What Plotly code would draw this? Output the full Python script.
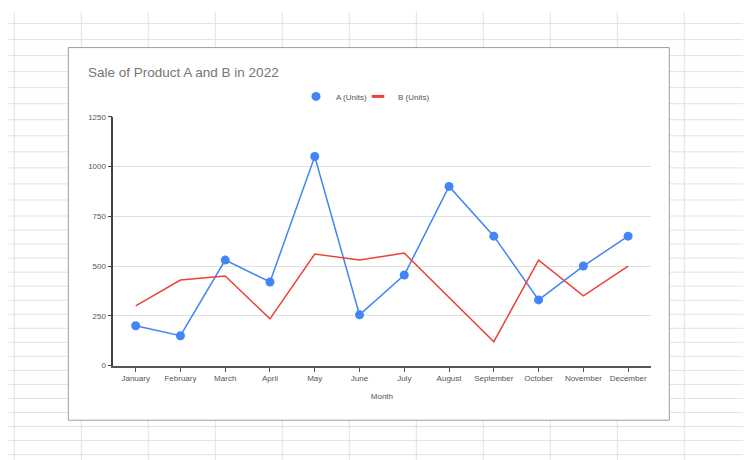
import plotly.graph_objects as go

# chart data
months = ["January", "February", "March", "April", "May", "June",
          "July", "August", "September", "October", "November", "December"]
units_a = [200, 150, 530, 420, 1050, 255, 455, 900, 650, 330, 500, 650]
units_b = [300, 430, 450, 235, 560, 530, 565, 340, 120, 530, 350, 500]
y_ticks = [0, 250, 500, 750, 1000, 1250]

# the page puts the figure 8px in from the window corner; the photo
# also squeezes the page a little vertically, so positions are mapped
PAGE_OFF = 8
Y_SHIFT, Y_SCALE = 4, 0.978
W, H = 751 - PAGE_OFF, 462
BLUE = "#4285F4"
RED = "#EA4335"
FONT = "Liberation Sans, Arial, sans-serif"


def px_x(x):
    # window pixel -> paper fraction
    return (x - PAGE_OFF) / W


def px_y(y):
    page_y = (y - Y_SHIFT) / Y_SCALE
    return 1 - (page_y - PAGE_OFF) / H


fig = go.Figure()

# line A with points, legend entry shown separately as a dot only
fig.add_trace(go.Scatter(
    x=months, y=units_a, mode="lines+markers", name="A (Units)",
    line=dict(color=BLUE, width=1.5), marker=dict(color=BLUE, size=9),
    showlegend=False, legendgroup="a",
))
fig.add_trace(go.Scatter(
    x=months, y=units_b, mode="lines", name="B (Units)",
    line=dict(color=RED, width=1.5), showlegend=False, legendgroup="b",
))
fig.add_trace(go.Scatter(
    x=[None], y=[None], mode="markers", name="A (Units)",
    marker=dict(color=BLUE, size=9), legendgroup="a", legend="legend",
))
fig.add_trace(go.Scatter(
    x=[None], y=[None], mode="markers", name="B (Units)",
    marker=dict(color=RED, symbol="line-ew", size=9,
                line=dict(color=RED, width=3)),
    legendgroup="b", legend="legend2",
))

# spreadsheet grid behind the chart
shapes = []
grid_col = "#e2e2e2"
col_x = 14.3
while col_x < 751:
    shapes.append(dict(type="line", xref="paper", yref="paper", layer="below",
                       x0=px_x(col_x), x1=px_x(col_x), y0=0, y1=1,
                       line=dict(color=grid_col, width=1)))
    col_x += 67
row_y = 23.3
while row_y < 460:
    shapes.append(dict(type="line", xref="paper", yref="paper", layer="below",
                       x0=0, x1=1, y0=px_y(row_y), y1=px_y(row_y),
                       line=dict(color=grid_col, width=1)))
    row_y += 16 if row_y < 215 else 14

# chart card
shapes.append(dict(type="rect", xref="paper", yref="paper", layer="below",
                   x0=px_x(68.3), x1=px_x(669.3), y0=px_y(419), y1=px_y(47.3),
                   fillcolor="white", line=dict(color="#9e9e9e", width=1)))

legend_style = dict(orientation="h", xanchor="left", yanchor="middle",
                    y=px_y(96), itemwidth=30,
                    font=dict(size=8, color="#555555"),
                    bgcolor="rgba(0,0,0,0)")

fig.update_layout(
    width=W, height=H,
    margin=dict(l=0, r=0, t=0, b=0),
    paper_bgcolor="white",
    plot_bgcolor="rgba(0,0,0,0)",
    font=dict(family=FONT, size=8, color="#555555"),
    shapes=shapes,
    title=dict(text="Sale of Product A and B in 2022",
               x=px_x(88), xanchor="left", xref="paper",
               y=px_y(72), yanchor="middle", yref="paper",
               font=dict(family=FONT, size=13.5, color="#757575")),
    legend=dict(legend_style, x=px_x(296)),
    legend2=dict(legend_style, x=px_x(358)),
    xaxis=dict(
        domain=[px_x(113.3), px_x(650.5)],
        type="category", range=[-0.5, 11.5],
        showgrid=False, showline=True, linecolor="#555555", linewidth=2,
        ticks="outside", ticklen=4, tickcolor="#555555", tickwidth=1,
        tickfont=dict(size=8, color="#555555"),
        title=dict(text="Month", standoff=11,
                   font=dict(size=8, color="#555555")),
        zeroline=False, fixedrange=True,
    ),
    yaxis=dict(
        domain=[px_y(364.5), px_y(116.3)],
        range=[0, 1250], tickvals=y_ticks,
        showgrid=True, gridcolor="#e0e0e0", gridwidth=1,
        showline=True, linecolor="#444444", linewidth=1.5,
        ticks="outside", ticklen=4, tickcolor="#444444",
        tickfont=dict(size=8, color="#555555"),
        zeroline=False, fixedrange=True,
    ),
)

fig.write_html("out.html")
